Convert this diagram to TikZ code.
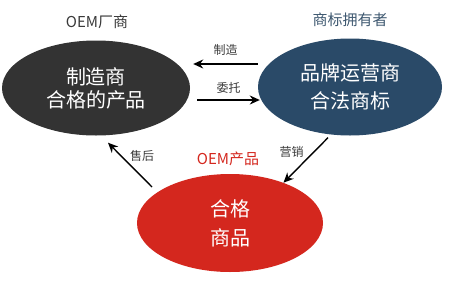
\documentclass[tikz,border=0pt]{standalone}
\usepackage{fontspec}
\setmainfont{Noto Sans CJK SC}
\usetikzlibrary{shapes.geometric,arrows.meta}

\definecolor{oemgray}{HTML}{333333}
\definecolor{brandblue}{HTML}{2A4A68}
\definecolor{goodsred}{HTML}{D4271E}
\definecolor{labelgray}{HTML}{3A3A3A}
\definecolor{ownerblue}{HTML}{3E5870}

\tikzset{
  blob/.style={ellipse, draw=none, text=white, align=center, inner sep=0pt,
    minimum width=188pt, minimum height=95pt},
  arr/.style={->, >={Stealth[length=10pt,width=9pt]}, line width=1.4pt, black},
  tag/.style={font=\fontsize{12}{14}\selectfont, text=labelgray, inner sep=0pt},
  title/.style={font=\fontsize{15}{18}\selectfont, inner sep=0pt}
}

\begin{document}
\begin{tikzpicture}[x=1pt,y=-1pt]
        \useasboundingbox (0,0) rectangle (464,285);
        % Les trois ellipses
        \node[blob, fill=oemgray, font=\fontsize{20}{23}\selectfont] (oem) at (96,88) {制造商\\合格的产品};
        \node[blob, fill=brandblue, minimum width=184pt, minimum height=97pt, font=\fontsize{20}{28}\selectfont] (brand) at (350,87) {品牌运营商\\合法商标};
        \node[blob, fill=goodsred, minimum width=186pt, minimum height=98pt, font=\fontsize{20}{29}\selectfont] (goods) at (230,223) {合格\\商品};
        % Titres
        \node[title, text=labelgray] (oemtitle) at (97,22) {OEM厂商};
        \node[title, text=ownerblue] (ownertitle) at (350,20) {商标拥有者};
        \node[title, text=goodsred] (goodstitle) at (228,159) {OEM产品};
        % Flèches
        \draw[arr] ([yshift=23pt]brand.west) -- ([xshift=3pt,yshift=24pt]oem.east) node[midway, tag, yshift=14pt] {制造};
        \draw[arr] ([xshift=7pt,yshift=-12pt]oem.east) -- ([xshift=2pt,yshift=-13pt]brand.west) node[midway, tag, yshift=12pt] {委托};
        \draw[arr] ([xshift=-22pt,yshift=-2pt]brand.south) -- (goods.37) node[midway, tag, xshift=-14pt, yshift=8pt] {营销};
        \draw[arr] ([xshift=-78pt,yshift=36pt]goods.center) -- ([xshift=12pt,yshift=-7pt]oem.south) node[midway, tag, xshift=12pt, yshift=9pt] {售后};
    \end{tikzpicture}
\end{document}
